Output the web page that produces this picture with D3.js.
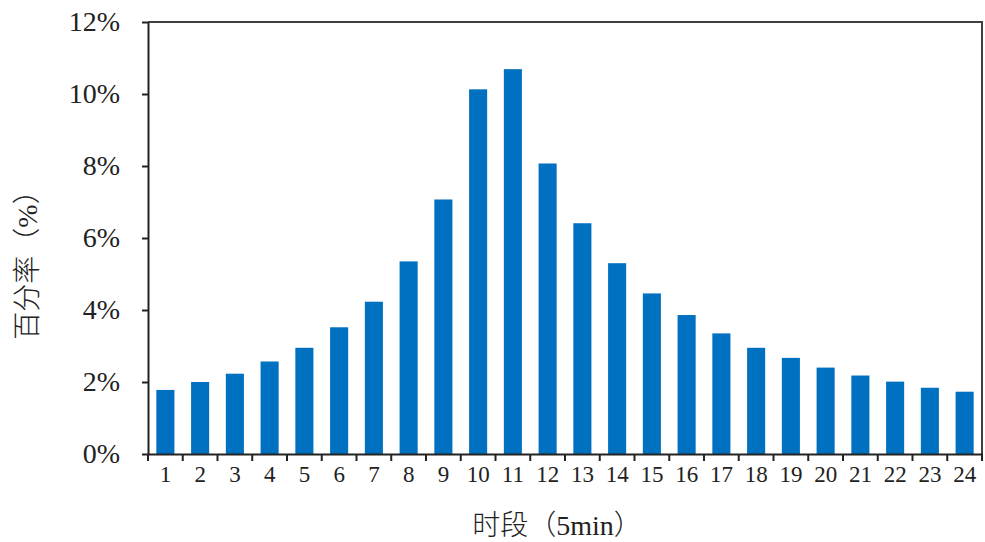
<!DOCTYPE html>
<html>
<head>
<meta charset="utf-8">
<script src="https://cdn.jsdelivr.net/npm/d3@7"></script>
<style>
  body { margin: 0; background: #fff; }
  svg { display: block; }
</style>
</head>
<body>
<div id="chart"></div>
<script>
// time slots (5 min each) and share of total, in percent
var slots = ["1","2","3","4","5","6","7","8","9","10","11","12","13","14","15","16","17","18","19","20","21","22","23","24"];
var percents = [1.78, 2.0, 2.23, 2.57, 2.95, 3.52, 4.23, 5.35, 7.07, 10.13, 10.69, 8.07, 6.41, 5.3, 4.46, 3.86, 3.35, 2.95, 2.67, 2.4, 2.18, 2.01, 1.84, 1.73];
var yTicks = [0, 2, 4, 6, 8, 10, 12];

var width = 985, height = 542;
var margin = {top: 22, right: 3, bottom: 88, left: 148};
var serif = "'Times New Roman', 'Liberation Serif', serif";
var cjk = "'SimSun', 'Noto Sans CJK SC', sans-serif";

var svg = d3.select("#chart").append("svg")
    .attr("width", width)
    .attr("height", height);

var x = d3.scaleBand()
    .domain(slots)
    .range([margin.left, width - margin.right])
    .paddingInner(0.48)
    .paddingOuter(0.24);

var y = d3.scaleLinear()
    .domain([0, 12])
    .range([height - margin.bottom, margin.top]);

// bars
svg.append("g").selectAll("rect")
  .data(percents)
  .join("rect")
    .attr("x", (d, i) => x(slots[i]))
    .attr("y", d => y(d))
    .attr("width", x.bandwidth())
    .attr("height", d => y(0) - y(d))
    .attr("fill", "#0070c0");

// top + right border of plot area
svg.append("path")
    .attr("d", "M" + margin.left + "," + y(12) + "H" + (width - margin.right) + "V" + y(0))
    .attr("fill", "none")
    .attr("stroke", "#404040")
    .attr("stroke-width", 2);

// y axis
var yAxis = svg.append("g")
    .attr("transform", "translate(" + margin.left + ",0)")
    .call(d3.axisLeft(y).tickValues(yTicks).tickFormat(d => d + "%").tickSize(6).tickSizeOuter(0).tickPadding(22));
yAxis.select(".domain").attr("stroke", "#222").attr("stroke-width", 2);
yAxis.selectAll(".tick line").attr("stroke", "#222").attr("stroke-width", 2);
yAxis.selectAll("text")
    .attr("font-family", serif)
    .attr("font-size", 28)
    .attr("fill", "#222");

// x axis, ticks sit between the bars
var xAxis = svg.append("g")
    .attr("transform", "translate(0," + y(0) + ")")
    .call(d3.axisBottom(x).tickSize(0).tickPadding(12));
xAxis.select(".domain").attr("stroke", "#222").attr("stroke-width", 2);
xAxis.selectAll("text")
    .attr("font-family", serif)
    .attr("font-size", 23)
    .attr("fill", "#222");

var step = x.step();
var bounds = d3.range(slots.length + 1).map(i => margin.left + i * step);
xAxis.selectAll("line.sep")
  .data(bounds)
  .join("line")
    .attr("class", "sep")
    .attr("x1", d => d).attr("x2", d => d)
    .attr("y1", 0).attr("y2", 7)
    .attr("stroke", "#222")
    .attr("stroke-width", 2);

// axis titles
var xt = svg.append("text")
    .attr("x", (margin.left + width - margin.right) / 2 - 8)
    .attr("y", 535)
    .attr("text-anchor", "middle")
    .attr("font-size", 28)
    .attr("font-weight", 300)
    .attr("fill", "#222");
xt.append("tspan").attr("font-family", cjk).text("时段（");
xt.append("tspan").attr("font-family", serif).text("5min");
xt.append("tspan").attr("font-family", cjk).text("）");

var yt = svg.append("text")
    .attr("transform", "translate(37,258) rotate(-90)")
    .attr("text-anchor", "middle")
    .attr("font-size", 28)
    .attr("font-weight", 300)
    .attr("fill", "#222");
yt.append("tspan").attr("font-family", cjk).text("百分率（");
yt.append("tspan").attr("font-family", serif).text("%");
yt.append("tspan").attr("font-family", cjk).text("）");
</script>
</body>
</html>
